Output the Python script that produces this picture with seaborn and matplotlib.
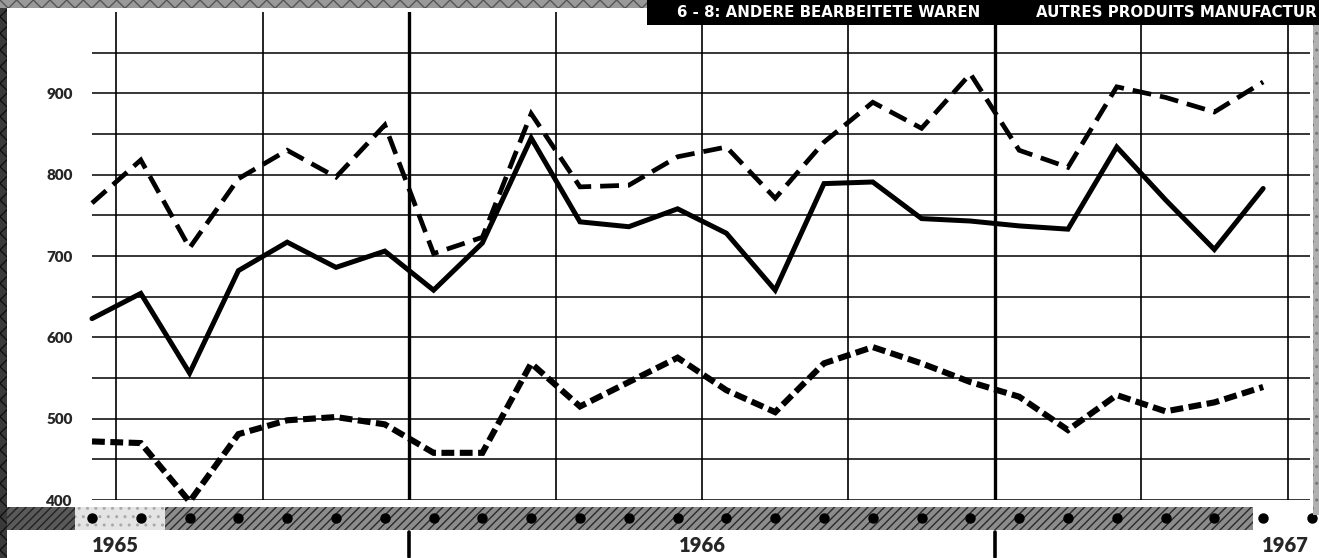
import numpy as np
import pandas as pd
import matplotlib
matplotlib.use("Agg")
import matplotlib.pyplot as plt
import matplotlib.transforms as mtransforms
import seaborn as sns
from matplotlib.patches import Rectangle

# ---- data (monthly, Jun 1965 .. Jun 1967) ----
months = list(range(25))
series_top = [765, 818, 710, 795, 830, 797, 861, 703, 723, 875, 785, 787,
              822, 834, 771, 840, 889, 857, 924, 830, 809, 908, 895, 877, 914]
series_mid = [623, 654, 556, 682, 717, 686, 706, 658, 716, 845, 742, 736,
              758, 728, 658, 789, 791, 746, 743, 737, 733, 834, 769, 708, 783]
series_low = [472, 470, 398, 481, 498, 502, 493, 458, 458, 568, 515, 545,
              575, 535, 508, 568, 588, 568, 545, 527, 486, 529, 509, 520, 539]
dot_months = list(range(26))
quarter_lines = [0.5, 3.5, 9.5, 12.5, 15.5, 21.5, 24.5]
year_lines = [6.5, 18.5]
year_labels = ["1965", "1966", "1967"]
year_label_pos = [0.47, 12.5, 24.45]
y_ticks = [400, 450, 500, 550, 600, 650, 700, 750, 800, 850, 900, 950]
y_labels = [400, 500, 600, 700, 800, 900]
title_left = "6 - 8: ANDERE BEARBEITETE WAREN"
title_right = "AUTRES PRODUITS MANUFACTUR"

df = pd.DataFrame({"month": months, "top": series_top,
                   "mid": series_mid, "low": series_low})

sns.set_style("white")
plt.rcParams['font.family'] = ['Lato', 'DejaVu Sans']

W, H = 1319, 558
fig = plt.figure(figsize=(W / 100, H / 100), dpi=100)
fig.patch.set_facecolor("white")

def fx(px):
    return px / W

def fy(py):
    return 1 - py / H

ax = fig.add_axes([fx(92), fy(500), fx(1310) - fx(92), fy(12) - fy(500)])
ax.set_zorder(2)
ax.patch.set_alpha(0)
ax.set_xlim(0, 24.96)
ax.set_ylim(400, 1000)
px_per_val = (500 - 12) / 600.0

def val_of_py(py):
    return 400 - (py - 500) / px_per_val

# grid
for yv in y_ticks:
    ax.axhline(yv, color="black", lw=1.1, zorder=1)
for xv in quarter_lines:
    ax.axvline(xv, color="black", lw=1.2, zorder=1)
for xv in year_lines:
    ax.axvline(xv, color="black", lw=2.4, zorder=1)

# series
sns.lineplot(data=df, x="month", y="top", ax=ax, color="black", lw=3.4,
             zorder=3, clip_on=False)
ax.lines[-1].set_dashes((4.0, 1.9))
sns.lineplot(data=df, x="month", y="mid", ax=ax, color="black", lw=3.6,
             zorder=3, clip_on=False)
sns.lineplot(data=df, x="month", y="low", ax=ax, color="black", lw=4.4,
             zorder=3, clip_on=False)
ax.lines[-1].set_dashes((2.1, 0.9))
for ln in ax.lines[-3:]:
    ln.set_solid_joinstyle("miter")
    ln.set_dash_joinstyle("miter")

ax.set_xticks([])
ax.set_yticks(y_labels)
ax.set_yticklabels([str(v) for v in y_labels], fontsize=11, fontweight="heavy")
ax.tick_params(axis="y", length=0, pad=14)
ax.set_xlabel("")
ax.set_ylabel("")
for s in ax.spines.values():
    s.set_visible(False)

# bottom band with month dots
band = [(0, 75, "#5a5a5a", "#222222", "////"),
        (75, 165, "#e4e4e4", "#aaaaaa", ".."),
        (165, 1253, "#8c8c8c", "#2a2a2a", "////")]
for x0, x1, fc, ec, ht in band:
    fig.patches.append(Rectangle((fx(x0), fy(530)), fx(x1) - fx(x0), fy(507) - fy(530),
                                 transform=fig.transFigure, facecolor=fc,
                                 edgecolor=ec, hatch=ht, lw=0, zorder=0))
ax.plot(dot_months, [val_of_py(518)] * len(dot_months), "o", color="black",
        markersize=6.5, clip_on=False, zorder=4)

# year labels and boundary marks
blend = mtransforms.blended_transform_factory(ax.transData, fig.transFigure)
for lab, xv in zip(year_labels, year_label_pos):
    ax.text(xv, fy(545), lab, transform=blend, ha="center", va="center",
            fontsize=14.5, fontweight="heavy", clip_on=False)
for xv in year_lines:
    ax.plot([xv, xv], [val_of_py(532), val_of_py(557)],
            color="black", lw=2.6, clip_on=False, zorder=4)

# scan borders
fig.patches.append(Rectangle((0, 0), fx(7), 1, transform=fig.transFigure,
                             facecolor="#3a3a3a", edgecolor="#111111",
                             hatch="xx", lw=0, zorder=5))
fig.patches.append(Rectangle((0, fy(8)), fx(647), fy(0) - fy(8), transform=fig.transFigure,
                             facecolor="#9a9a9a", edgecolor="#555555",
                             hatch="xx", lw=0, zorder=5))
fig.patches.append(Rectangle((fx(1313), fy(515)), fx(6), fy(25) - fy(515),
                             transform=fig.transFigure, facecolor="#b0b0b0",
                             edgecolor="#777777", hatch="..", lw=0, zorder=5))

# title box
fig.patches.append(Rectangle((fx(647), fy(25)), 1 - fx(647), fy(0) - fy(25),
                             transform=fig.transFigure, facecolor="black",
                             lw=0, zorder=6))
fig.text(fx(677), fy(12.5), title_left, color="white", fontsize=10.8,
         fontweight="bold", family="DejaVu Sans", ha="left", va="center", zorder=7)
fig.text(fx(1317), fy(12.5), title_right, color="white", fontsize=10.8,
         fontweight="bold", family="DejaVu Sans", ha="right", va="center", zorder=7)

fig.savefig("out.png", dpi=100, facecolor="white")
